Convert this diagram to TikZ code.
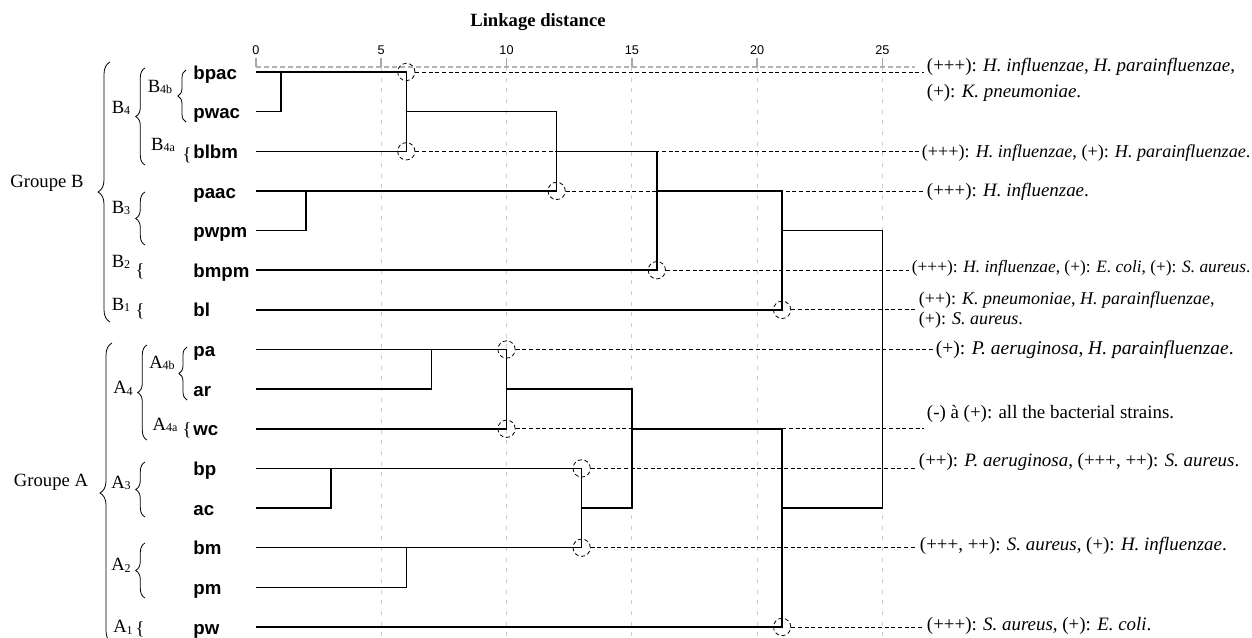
\documentclass[tikz,border=0pt]{standalone}
\usepackage{fontspec}
\setmainfont{Liberation Serif}
\setsansfont{Liberation Sans}
\usetikzlibrary{calc,positioning,decorations.pathreplacing}
\tikzstyle{leaf}=[anchor=base west,inner sep=0pt,font=\sffamily\bfseries\fontsize{14}{14}\selectfont]
\tikzstyle{grp}=[inner sep=0pt,font=\fontsize{14}{14}\selectfont]
\tikzstyle{heading}=[font=\bfseries\fontsize{14}{14}\selectfont]
\tikzstyle{ticklabel}=[inner sep=0pt,font=\sffamily\fontsize{9.5}{9.5}\selectfont]
\tikzstyle{note}=[anchor=west,inner sep=2pt,align=left,font=\fontsize{14.2}{19.5}\selectfont]
\tikzstyle{link}=[line width=1.1pt]
\tikzstyle{ring}=[circle,draw,densely dashed,minimum size=13pt,inner sep=0pt,line width=0.6pt]
\tikzstyle{guide}=[densely dashed,line width=0.6pt]
\tikzstyle{gridline}=[gray!40,dash pattern=on 3pt off 5pt,line width=0.6pt]
\tikzstyle{axisline}=[gray!60,dash pattern=on 4pt off 2pt,line width=1.5pt]
\tikzstyle{axistick}=[gray!70,line width=1.2pt]
\tikzset{gbrace/.style={decorate,decoration={brace,amplitude=#1},line width=0.6pt}}
\newcommand{\grpsub}[1]{\raisebox{-0.2ex}{\fontsize{9}{9}\selectfont #1}}

\begin{document}
\begin{tikzpicture}[x=0.75pt,y=-0.75pt]
  \useasboundingbox (0,0) rectangle (1252,637);
  \node[heading] (title) at (538,22) {Linkage distance};

  \begin{scope}[xshift=192pt,yshift=-54pt,x=18.79pt,y=-29.73pt]
    \foreach \d in {5,10,...,25}
      \draw[gridline] (\d,-0.13) -- (\d,14.6);
    \draw[axisline] (0,-0.13) -- (26.3,-0.13);
    \foreach \d in {0,5,...,25} {
      \draw[axistick] (\d,-0.13) -- (\d,-0.35);
      \node[ticklabel] (tk\d) at (\d,-0.56) {\d};
    }

    \foreach \n [count=\r from 0] in {bpac,pwac,blbm,paac,pwpm,bmpm,bl,pa,ar,wc,bp,ac,bm,pm,pw} {
      \node[leaf] (\n) at (-2.51,\r+0.18) {\n};
      \coordinate (l\n) at (0,\r);
    }

    \coordinate (m1) at (1,0);
    \coordinate (m2) at (6,1);
    \coordinate (m3) at (2,3);
    \coordinate (m4) at (12,2);
    \coordinate (m5) at (16,3);
    \coordinate (m6) at (21,4);
    \coordinate (m7) at (7,7);
    \coordinate (m8) at (10,8);
    \coordinate (m9) at (3,10);
    \coordinate (m10) at (6,12);
    \coordinate (m11) at (13,11);
    \coordinate (m12) at (15,9);
    \coordinate (m13) at (21,11);
    \coordinate (root) at (25,7.5);

    \draw[link] (lbpac) -| (m1) |- (lpwac);
    \draw[link] (m1) -| (m2) |- (lblbm);
    \draw[link] (lpaac) -| (m3) |- (lpwpm);
    \draw[link] (m2) -| (m4) |- (m3);
    \draw[link] (m4) -| (m5) |- (lbmpm);
    \draw[link] (m5) -| (m6) |- (lbl);
    \draw[link] (lpa) -| (m7) |- (lar);
    \draw[link] (m7) -| (m8) |- (lwc);
    \draw[link] (lbp) -| (m9) |- (lac);
    \draw[link] (lbm) -| (m10) |- (lpm);
    \draw[link] (m9) -| (m11) |- (m10);
    \draw[link] (m8) -| (m12) |- (m11);
    \draw[link] (m12) -| (m13) |- (lpw);
    \draw[link] (m6) -| (root) |- (m13);

    \foreach \c/\d/\r in {c0/6/0,c2/6/2,c3/12/3,c5/16/5,c6/21/6,c7/10/7,c9/10/9,c10/13/10,c12/13/12,c14/21/14}
      \node[ring] (\c) at (\d,\r) {};
  \end{scope}

  \node[note] (t0) at (924,80) {(+++): \textit{H. influenzae}, \textit{H. parainfluenzae},\\(+): \textit{K. pneumoniae}.};
  \node[note,font=\fontsize{13.6}{14}\selectfont] (t2) at (919,153) {(+++): \textit{H. influenzae}, (+): \textit{H. parainfluenzae}.};
  \node[note] (t3) at (924,192) {(+++): \textit{H. influenzae}.};
  \node[note,font=\fontsize{13}{14}\selectfont] (t5) at (909,268) {(+++): \textit{H. influenzae}, (+): \textit{E. coli}, (+): \textit{S. aureus}.};
  \node[note,font=\fontsize{13.5}{14.5}\selectfont] (t6) at (916,310) {(++): \textit{K. pneumoniae}, \textit{H. parainfluenzae},\\(+): \textit{S. aureus}.};
  \node[note,font=\fontsize{14.6}{15}\selectfont] (t7) at (933,350) {(+): \textit{P. aeruginosa}, \textit{H. parainfluenzae}.};
  \node[note] (t9) at (924,414) {(-) à (+): all the bacterial strains.};
  \node[note] (t10) at (916,462) {(++): \textit{P. aeruginosa}, (+++, ++): \textit{S. aureus}.};
  \node[note] (t12) at (917,546) {(+++, ++): \textit{S. aureus}, (+): \textit{H. influenzae}.};
  \node[note] (t14) at (924,626) {(+++): \textit{S. aureus}, (+): \textit{E. coli}.};

  \foreach \c/\t in {c0/t0,c2/t2,c3/t3,c5/t5,c6/t6,c7/t7,c9/t9,c10/t10,c12/t12,c14/t14}
    \draw[guide] (\c.east) -- (\c.east -| \t.west);

  \node[grp] (gB) at (47,183) {Groupe B};
  \node[grp] (gA) at (51,482) {Groupe A};
  \draw[gbrace=9pt] (110,322) -- (110,62);
  \draw[gbrace=9pt] (112,643) -- (112,343);

  \node[grp] (B4) at (121,108) {B\grpsub{4}};
  \node[grp] (B4b) at (160,87) {B\grpsub{4b}};
  \node[grp] (B4a) at (163,145) {B\grpsub{4a}};
  \node[grp] (B3) at (121,208) {B\grpsub{3}};
  \node[grp] (B2) at (121,262) {B\grpsub{2}};
  \node[grp] (B1) at (121,305) {B\grpsub{1}};
  \draw[gbrace=7pt] (145,165) -- (145,68);
  \draw[gbrace=6pt] (186,122) -- (186,70);
  \draw[gbrace=7pt] (145,245) -- (145,192);
  \node[grp] (kB4a) at (187,155) {\{};
  \node[grp] (kB2) at (140,271) {\{};
  \node[grp] (kB1) at (140,311) {\{};

  \node[grp] (A4) at (123,388) {A\grpsub{4}};
  \node[grp] (A4b) at (162,363) {A\grpsub{4b}};
  \node[grp] (A4a) at (165,425) {A\grpsub{4a}};
  \node[grp] (A3) at (121,483) {A\grpsub{3}};
  \node[grp] (A2) at (121,565) {A\grpsub{2}};
  \node[grp] (A1) at (123,627) {A\grpsub{1}};
  \draw[gbrace=7pt] (147,440) -- (147,345);
  \draw[gbrace=6pt] (187,400) -- (187,347);
  \draw[gbrace=7pt] (145,517) -- (145,462);
  \draw[gbrace=7pt] (145,598) -- (145,543);
  \node[grp] (kA4a) at (187,430) {\{};
  \node[grp] (kA1) at (140,629) {\{};
\end{tikzpicture}
\end{document}
